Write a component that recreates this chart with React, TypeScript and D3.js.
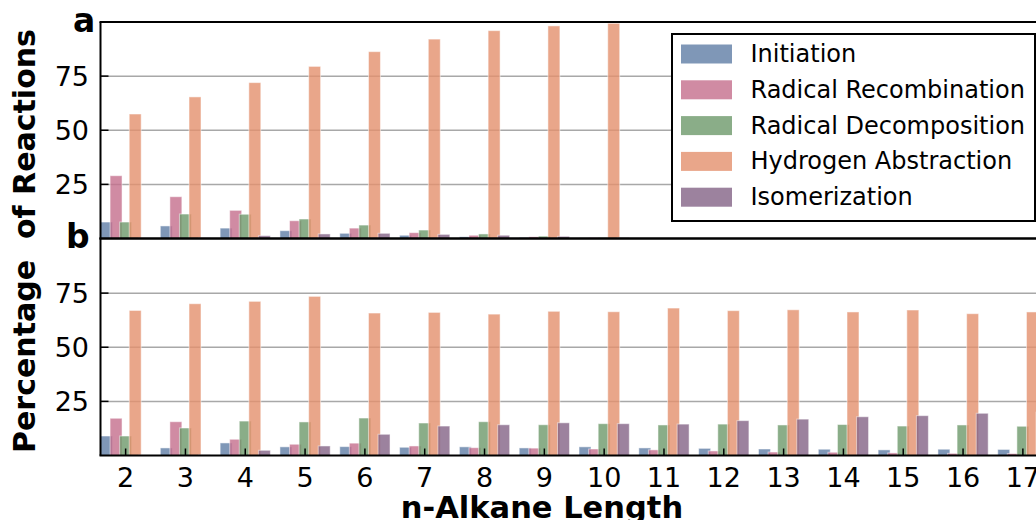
import React from "react";
import { scaleLinear, scalePoint } from "d3";

// panel a: share of reactions, lengths 2-10
const lengthsA = [2, 3, 4, 5, 6, 7, 8, 9, 10];
const initiationA = [7.6, 5.8, 4.8, 3.6, 2.4, 1.5, 0.8, 0.5, 0.3];
const recombinationA = [29.0, 19.3, 13.0, 8.2, 4.8, 2.7, 1.5, 0.8, 0.4];
const decompositionA = [7.6, 11.3, 11.2, 9.0, 6.2, 3.9, 2.1, 1.1, 0.4];
const abstractionA = [57.5, 65.4, 72.0, 79.5, 86.3, 92.1, 96.0, 98.2, 99.4];
const isomerizationA = [0.2, 0.3, 1.3, 2.1, 2.4, 1.9, 1.5, 1.0, 0.4];

// panel b: lengths 2-17
const lengthsB = [2, 3, 4, 5, 6, 7, 8, 9, 10, 11, 12, 13, 14, 15, 16, 17];
const initiationB = [9.0, 3.5, 5.8, 4.0, 4.1, 3.8, 4.0, 3.5, 4.0, 3.5, 3.3, 3.0, 2.9, 2.6, 2.9, 2.8];
const recombinationB = [17.2, 15.6, 7.5, 5.2, 5.7, 4.4, 3.6, 3.4, 3.0, 2.6, 2.1, 1.6, 1.5, 1.2, 1.0, 0.9];
const decompositionB = [9.0, 12.7, 15.9, 15.5, 17.3, 15.0, 15.6, 14.2, 14.7, 14.1, 14.5, 14.1, 14.3, 13.6, 14.1, 13.5];
const abstractionB = [67.0, 70.1, 71.2, 73.5, 65.8, 66.1, 65.3, 66.6, 66.4, 68.1, 66.9, 67.3, 66.3, 67.2, 65.5, 66.3];
const isomerizationB = [0.2, 0.3, 2.4, 4.4, 9.8, 13.6, 14.2, 15.1, 14.7, 14.5, 16.1, 16.8, 17.9, 18.4, 19.5, 20.0];

const seriesNames = [
  "Initiation",
  "Radical Recombination",
  "Radical Decomposition",
  "Hydrogen Abstraction",
  "Isomerization",
];
const colors = ["#5f7da5", "#c46e8c", "#6d986a", "#e3906d", "#836386"];
const yTicks = [25, 50, 75];

const seriesA = [initiationA, recombinationA, decompositionA, abstractionA, isomerizationA];
const seriesB = [initiationB, recombinationB, decompositionB, abstractionB, isomerizationB];

const FONT = "DejaVu Sans, sans-serif";

const left = 100.5;
const right = 1048;

const xScale = scalePoint<number>()
  .domain(lengthsB)
  .range([left, right])
  .padding(0.42);
const step = xScale.step();

const Panel = ({ cats, series, y, top, bottom, xTicks }) => {
  const grid = yTicks.map((t) => (
    <line key={"g" + t} x1={left} x2={1036} y1={y(t)} y2={y(t)} stroke="#a8a8a8" strokeWidth={1.5} />
  ));

  const bars = series.map((vals, si) =>
    vals.map((v, i) => {
      const cx = xScale(cats[i]) + (si - 2) * 0.16 * step;
      const w = 0.2 * step;
      return (
        <rect
          key={si + "-" + i}
          x={cx - w / 2}
          y={y(v)}
          width={w}
          height={y(0) - y(v)}
          fill={colors[si]}
          fillOpacity={0.8}
          stroke="#ffffff"
          strokeOpacity={0.5}
          strokeWidth={1}
        />
      );
    })
  );

  const ticks = yTicks.map((t) => (
    <g key={"t" + t}>
      <line x1={left} x2={left + 8} y1={y(t)} y2={y(t)} stroke="black" strokeWidth={1.5} />
      <text x={89} y={y(t)} textAnchor="end" dominantBaseline="central" fontSize={27} fontFamily={FONT}>
        {t}
      </text>
    </g>
  ));

  const xt = xTicks
    ? cats.map((c) => (
        <g key={"x" + c}>
          <line x1={xScale(c)} x2={xScale(c)} y1={bottom} y2={bottom - 7} stroke="black" strokeWidth={1.5} />
          <text x={xScale(c)} y={487} textAnchor="middle" fontSize={27} fontFamily={FONT}>
            {c}
          </text>
        </g>
      ))
    : null;

  return (
    <g>
      {grid}
      {bars}
      {ticks}
      {xt}
      <line x1={left} x2={left} y1={top} y2={bottom} stroke="black" strokeWidth={2} />
      <line x1={left - 1} x2={1036} y1={top} y2={top} stroke="black" strokeWidth={2} />
      <line x1={left - 1} x2={1036} y1={bottom} y2={bottom} stroke="black" strokeWidth={2} />
    </g>
  );
};

const Legend = () => {
  const x0 = 672;
  const y0 = 34;
  return (
    <g>
      <rect x={x0} y={y0} width={363} height={187} fill="white" stroke="black" strokeWidth={2} />
      {seriesNames.map((name, i) => {
        const cy = 54 + i * 35.8;
        return (
          <g key={name}>
            <rect x={681} y={cy - 9.5} width={51} height={19} fill={colors[i]} fillOpacity={0.8} />
            <text x={750.5} y={cy} dominantBaseline="central" fontSize={24} fontFamily={FONT}>
              {name}
            </text>
          </g>
        );
      })}
    </g>
  );
};

export default function App() {
  const yA = scaleLinear().domain([0, 100]).range([238.5, 22]);
  const yB = scaleLinear().domain([0, 100]).range([455.5, 239]);

  return (
    <svg
      width={1036}
      height={520}
      viewBox="0 0 1036 520"
      style={{ position: "absolute", left: 0, top: 0, background: "white" }}
    >
      <Panel cats={lengthsA} series={seriesA} y={yA} top={22} bottom={238.5} xTicks={false} />
      <Panel cats={lengthsB} series={seriesB} y={yB} top={238.5} bottom={455.5} xTicks={true} />
      <Legend />
      <text x={73} y={32} fontSize={33} fontWeight="bold" fontFamily={FONT}>a</text>
      <text x={66} y={248} fontSize={33} fontWeight="bold" fontFamily={FONT}>b</text>
      <text
        transform="translate(35,241) rotate(-90)"
        textAnchor="middle"
        fontSize={30}
        fontWeight="bold"
        fontFamily={FONT}
        style={{ whiteSpace: "pre" }}
      >
        {"Percentage  of Reactions"}
      </text>
      <text x={542} y={518} textAnchor="middle" fontSize={30.5} fontWeight="bold" fontFamily={FONT}>
        n-Alkane Length
      </text>
    </svg>
  );
}
